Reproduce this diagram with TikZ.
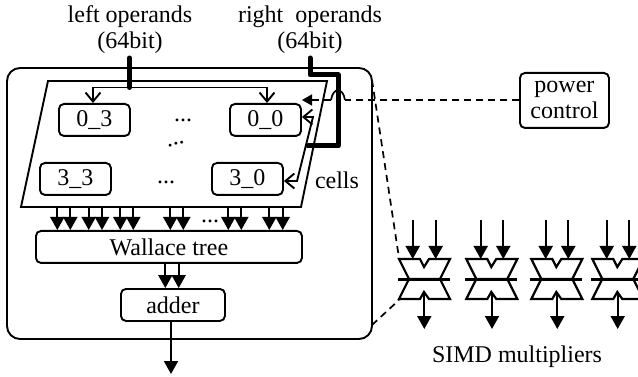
\documentclass[tikz,border=0pt]{standalone}
\usepackage{fontspec}
\setmainfont{Liberation Serif}
\usetikzlibrary{arrows.meta,calc}
\tikzset{
 x=1pt,y=-1pt,
 every node/.style={font=\fontsize{24}{26}\selectfont,inner sep=0pt,align=center},
 thin line/.style={line width=1.9pt},
 boxr/.style={draw,line width=1.9pt,rounded corners=5pt,anchor=north west},
 heavy/.style={line width=5pt},
 solid tip/.style={line width=2pt,-{Triangle[length=13pt,width=14pt]}},
 open both/.style={line width=1.9pt,{Straight Barb[length=9pt,width=15pt,line width=1.9pt]}-{Straight Barb[length=9pt,width=15pt,line width=1.9pt]}},
 dashline/.style={line width=1.7pt,dash pattern=on 7pt off 5pt},
}
\newcommand{\cellbox}[5]{\node[boxr,minimum width=#3pt,minimum height=#4pt] (#1) at #2 {#5};}
\newcommand{\multip}[4]{%
 \begin{scope}[shift={(#1,0)}]
 \draw[line width=2.2pt,line join=miter] (399,259)--(420,259)--(424,267)--(429,259)--(450,259)--(440,279)--(409,279)--cycle;
 \draw[line width=2.2pt,line join=miter] (409,279)--(399,299)--(420,299)--(424,292)--(429,299)--(450,299)--(440,279);
 \draw[line width=3pt] (398,279)--(450,279);
 \end{scope}
 \coordinate (a#4) at (#2,220); \coordinate (b#4) at (#2,259);
 \coordinate (c#4) at (#3,220); \coordinate (d#4) at (#3,259);
 \draw[solid tip] (a#4)--(b#4);
 \draw[solid tip] (c#4)--(d#4);
}
\begin{document}
\begin{tikzpicture}
\useasboundingbox (0,0) rectangle (638,377);
\clip (0,0) rectangle (638,377);
\draw[line width=1.9pt,rounded corners=13pt] (7,68) rectangle (372,339);
\coordinate (outerTR) at (372,80);
\coordinate (outerBR) at (372,325);
\draw[thin line] (48,81)--(327,81)--(301,207)--(21,207)--cycle;
\cellbox{c03}{(58,103)}{71}{32}{0\_3}
\cellbox{c00}{(229,103)}{71}{32}{0\_0}
\cellbox{c33}{(39,162)}{71}{32}{3\_3}
\cellbox{c30}{(211,162)}{71}{32}{3\_0}
\cellbox{wt}{(35,230)}{266}{32}{Wallace tree}
\cellbox{add}{(120,288)}{104}{32}{adder}
\node[anchor=north west,draw,line width=1.9pt,rounded corners=5pt,minimum width=89pt,minimum height=55pt] (pc) at (519,72) {power\\control};
\node (lop) at (130,30) {left operands\\(64bit)};
\node (rop) at (310,30) {right\hspace{6pt} operands\\(64bit)};
\node (cells) at (337,180) {cells};
\node (d1) at (183,120) {...};
\node (d2) at (176,144) [rotate=15] {...};
\node (d3) at (166,182) {...};
\node (d4) at (210,221) {...};
\node (simd) at (517,357) {SIMD multipliers};
% left operand bus
\coordinate (ltop) at (129.5,58);
\coordinate (lj) at (129.5,87.5);
\draw[heavy,line cap=round] (ltop)--(lj);
\coordinate (l1) at (93,87.5); \coordinate (l2) at (267,87.5);
\draw[open both] (l1|-c03.north)--(l1)--(l2)--(l2|-c00.north);
% right operand bus
\coordinate (rtop) at (310,58);
\draw[heavy,line cap=round,line join=round] (rtop)--(310,75)--(338,75)--(338,146)--(308,146);
\coordinate (r1) at (313,117); \coordinate (r2) at (297,181);
\draw[open both] (c00.east|-r1)--(r1)--(r2)--(c30.east|-r2);
% power control
\coordinate (hopR) at (345,100);\coordinate (hopL) at (331,100);
\coordinate (tipP) at (302,100);
\draw[dashline] (pc.west|-hopR)--(hopR);
\draw[line width=1.7pt] (hopR) .. controls (343,87) and (333,87) .. (hopL);
\draw[dashline,-{Triangle[length=10pt,width=11pt]}] (hopL)--(tipP);
% zoom lines
\draw[dashline] (outerTR)--(399,258);
\draw[dashline] (outerBR)--(399,300);
% multipliers
\multip{0}{412.7}{435.7}{m}
\multip{67.3}{480.7}{503.3}{n}
\multip{132.3}{545.7}{568.3}{o}
\multip{193.3}{606.7}{629.3}{p}
\foreach \n/\x in {q/424.3,r/492,s/557.3,t/617.7}{
 \coordinate (\n1) at (\x,292); \coordinate (\n2) at (\x,329);
 \draw[solid tip] (\n1)--(\n2);
}
% cells to wallace
\foreach \x in {57.3,70.3,88.7,102,120.3,133.3,170.3,183.3,228.3,241.3,269.3,282.7}{
 \draw[solid tip] (\x,207)--(\x,230);
}
\draw[solid tip] (165.3,262)--(165.3,288);
\draw[solid tip] (178.7,262)--(178.7,288);
\coordinate (out) at (171,374);
\draw[solid tip] (171,320)--(out);
\end{tikzpicture}
\end{document}
